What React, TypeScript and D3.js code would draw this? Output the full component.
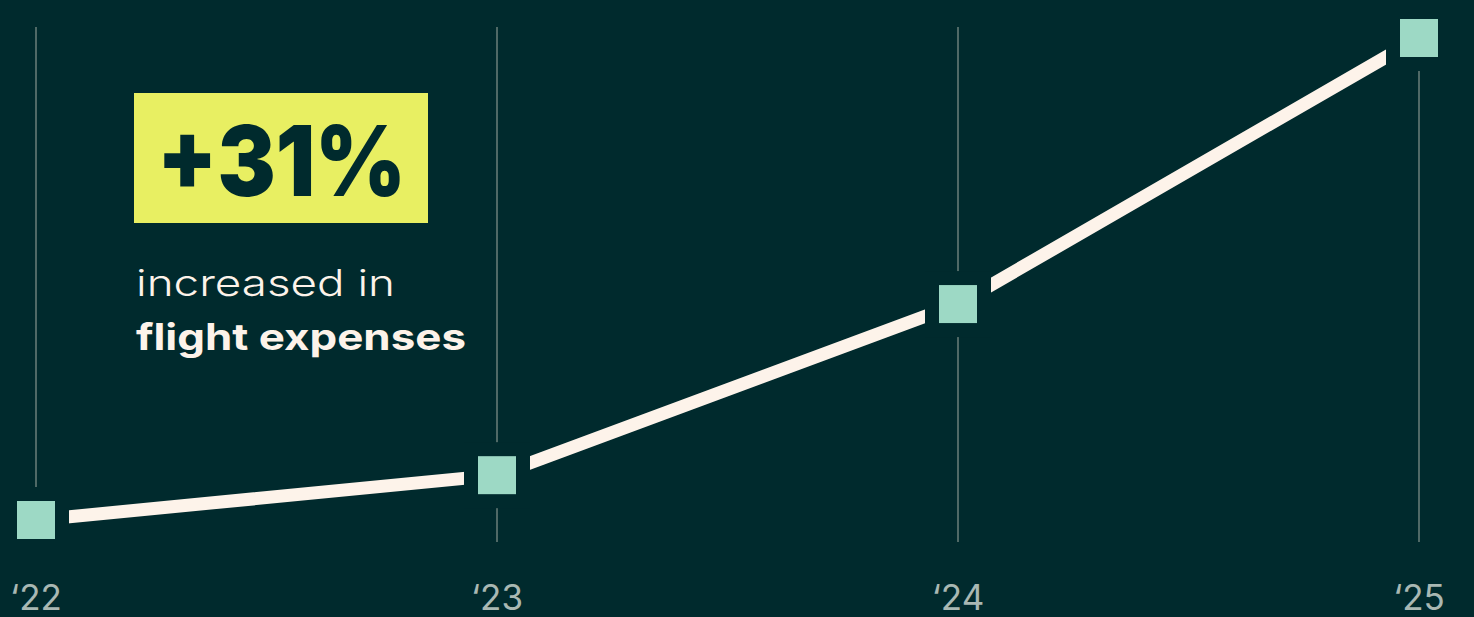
import React from "react";
import * as d3 from "d3";

const years = [2022, 2023, 2024, 2025];
const yearLabels = ["\u201822", "\u201823", "\u201824", "\u201825"];
const expenseIndex = [100, 109.3, 144.8, 200];
const headline = "+31%";
const subLine1 = "increased in";
const subLine2 = "flight expenses";

const W = 1474;
const H = 617;
const BG = "#002a2d";

export default function App() {
  const x = d3.scaleLinear().domain([2022, 2025]).range([36, 1419]);
  const y = d3.scaleLinear().domain([100, 200]).range([520, 38]);
  const pts = years.map((yr, i) => [x(yr), y(expenseIndex[i])] as [number, number]);
  const line = d3.line<[number, number]>().x((d) => d[0]).y((d) => d[1]);
  const sq = 38;
  const pad = 14;
  return (
    <svg width={W} height={H} style={{ position: "fixed", left: 0, top: 0, display: "block" }}>
      <rect x={0} y={0} width={W} height={H} fill={BG} />
      {years.map((yr) => (
        <line key={yr} x1={x(yr)} x2={x(yr)} y1={27} y2={542} stroke="#4f6966" strokeWidth={2} />
      ))}
      <path d={line(pts) || ""} fill="none" stroke="#fdf3ea" strokeWidth={13} />
      {pts.map(([px, py], i) => (
        <g key={i}>
          <rect x={px - sq / 2 - pad} y={py - sq / 2 - pad} width={sq + 2 * pad} height={sq + 2 * pad} fill={BG} />
          <rect x={px - sq / 2} y={py - sq / 2} width={sq} height={sq} fill="#9dd9c5" />
        </g>
      ))}
      {years.map((yr, i) => (
        <text key={yr} x={x(yr)} y={610} textAnchor="middle" fill="#a9b8b3" fontFamily="Inter, sans-serif" fontSize={35}>
          {yearLabels[i]}
        </text>
      ))}
      <rect x={134} y={93} width={294} height={130} fill="#e8ef62" />
      <text x={157} y={196} fill={BG} fontFamily="Inter, sans-serif" fontWeight={900} fontSize={98} textLength={249} lengthAdjust="spacingAndGlyphs">
        {headline}
      </text>
      <text x={136} y={296} fill="#fdf3ea" fontFamily="Inter, sans-serif" fontWeight={300} fontSize={37} textLength={259} lengthAdjust="spacingAndGlyphs">
        {subLine1}
      </text>
      <text x={136} y={350} fill="#fdf3ea" fontFamily="Inter, sans-serif" fontWeight={700} fontSize={37} textLength={330} lengthAdjust="spacingAndGlyphs">
        {subLine2}
      </text>
    </svg>
  );
}
